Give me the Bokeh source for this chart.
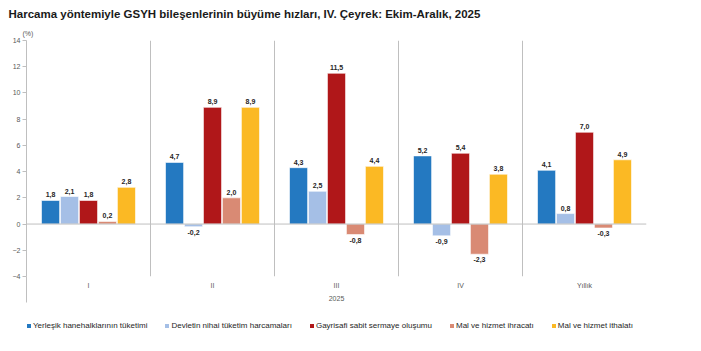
import numpy as np
from bokeh.plotting import figure
from bokeh.layouts import column
from bokeh.models import (ColumnDataSource, Range1d, FixedTicker, Span, Legend,
                          LegendItem, Title)
from bokeh.transform import dodge
from bokeh.core.properties import value
from bokeh.embed import file_html
from bokeh.resources import INLINE

categories = ["I", "II", "III", "IV", "Yıllık"]
series_names = ["Yerleşik hanehalklarının tüketimi",
                "Devletin nihai tüketim harcamaları",
                "Gayrisafi sabit sermaye oluşumu",
                "Mal ve hizmet ihracatı",
                "Mal ve hizmet ithalatı"]
hanehalki = [1.8, 4.7, 4.3, 5.2, 4.1]
devlet = [2.1, -0.2, 2.5, -0.9, 0.8]
gsso = [1.8, 8.9, 11.5, 5.4, 7.0]
ihracat = [0.2, 2.0, -0.8, -2.3, -0.3]
ithalat = [2.8, 8.9, 4.4, 3.8, 4.9]
y_ticks = [-4, -2, 0, 2, 4, 6, 8, 10, 12, 14]
x_axis_label = "2025"

series = [hanehalki, devlet, gsso, ihracat, ithalat]
colors = ["#2479C1", "#A5BFE6", "#B01719", "#D98A74", "#FBB924"]

FONT = "Liberation Sans"
centers = np.arange(len(categories)) + 0.5

p = figure(width=701, height=310, output_backend="svg", toolbar_location=None,
           x_range=Range1d(0, len(categories)), y_range=Range1d(-4, 14),
           min_border_left=26, min_border_right=55, min_border_top=40,
           min_border_bottom=34)
p.outline_line_color = None
p.background_fill_color = "white"
p.border_fill_color = "white"
p.xgrid.visible = False
p.ygrid.visible = False

p.title.text = "Harcama yöntemiyle GSYH bileşenlerinin büyüme hızları, IV. Çeyrek: Ekim-Aralık, 2025"
p.title.text_font = FONT
p.title.text_font_size = "11.5px"
p.title.text_font_style = "bold"
p.title.text_color = "#1a1a1a"
p.title.offset = -18
p.title.standoff = 7

unit_title = Title(text="(%)", align="left", offset=-4, standoff=8,
                   text_font=FONT, text_font_size="7px", text_font_style="normal",
                   text_color="#595959")
p.add_layout(unit_title, "above")

# y axis
ya = p.yaxis[0]
ya.ticker = FixedTicker(ticks=y_ticks)
ya.axis_line_color = "#BFBFBF"
ya.major_tick_line_color = "#BFBFBF"
ya.major_tick_out = 4
ya.major_tick_in = 0
ya.minor_tick_line_color = None
ya.major_label_text_font = FONT
ya.major_label_text_font_size = "7px"
ya.major_label_text_color = "#595959"
ya.major_label_standoff = 2

# x axis
xa = p.xaxis[0]
xa.ticker = FixedTicker(ticks=list(centers), minor_ticks=[0])
xa.major_label_overrides = {float(c): cat for c, cat in zip(centers, categories)}
xa.axis_line_color = None
xa.major_tick_line_color = None
xa.major_tick_out = 0
xa.minor_tick_line_color = "#BFBFBF"
xa.minor_tick_out = 26
xa.minor_tick_in = 0
xa.major_label_text_font = FONT
xa.major_label_text_font_size = "7px"
xa.major_label_text_color = "#595959"
xa.major_label_standoff = -21
xa.axis_label = x_axis_label
xa.axis_label_text_font = FONT
xa.axis_label_text_font_size = "7px"
xa.axis_label_text_font_style = "normal"
xa.axis_label_text_color = "#595959"
xa.axis_label_standoff = 4

# category separators
for b in range(1, len(categories)):
    p.add_layout(Span(location=b, dimension="height", line_color="#BFBFBF", line_width=1))

# zero line
p.add_layout(Span(location=0, dimension="width", line_color="#BFBFBF", line_width=1))

pitch = 0.153
bw = 0.146
for i, (vals, name, col) in enumerate(zip(series, series_names, colors)):
    off = (i - 2) * pitch
    labels = [f"{v:.1f}".replace(".", ",") for v in vals]
    src = ColumnDataSource(dict(
        x=centers, y=vals, lab=labels,
        yoff=[-3 if v >= 0 else 3 for v in vals],
        base=["bottom" if v >= 0 else "top" for v in vals]))
    p.vbar(x=dodge("x", off), top="y", bottom=0, width=bw, source=src,
           fill_color=col, line_color="white", line_width=0.6)
    p.text(x=dodge("x", off), y="y", text="lab", source=src,
           y_offset="yoff", text_baseline="base", text_align="center",
           text_font=value(FONT), text_font_size="7px", text_font_style="bold",
           text_color="#262626")

# legend strip (proxy renderers of zero size, only for legend swatches)
lg = figure(width=701, height=41, output_backend="svg", toolbar_location=None,
            x_range=Range1d(0, 1), y_range=Range1d(0, 1), min_border=0)
lg.axis.visible = False
lg.grid.visible = False
lg.outline_line_color = None
lg.border_fill_color = "white"
items = []
for name, col in zip(series_names, colors):
    r = lg.vbar(x=[0], top=[0], bottom=0, width=0, fill_color=col, line_color=None)
    items.append(LegendItem(label=name, renderers=[r]))
legend = Legend(items=items, orientation="horizontal", location=(0, 21),
                label_text_font=FONT, label_text_font_size="8px",
                label_text_color="#262626", glyph_width=5, glyph_height=5,
                label_standoff=2, spacing=17, padding=0, margin=0,
                border_line_color=None, background_fill_alpha=0,
                label_height=8, label_text_baseline="middle")
lg.add_layout(legend)

layout = column(p, lg, spacing=0)
open("out.html", "w").write(file_html(layout, INLINE))
